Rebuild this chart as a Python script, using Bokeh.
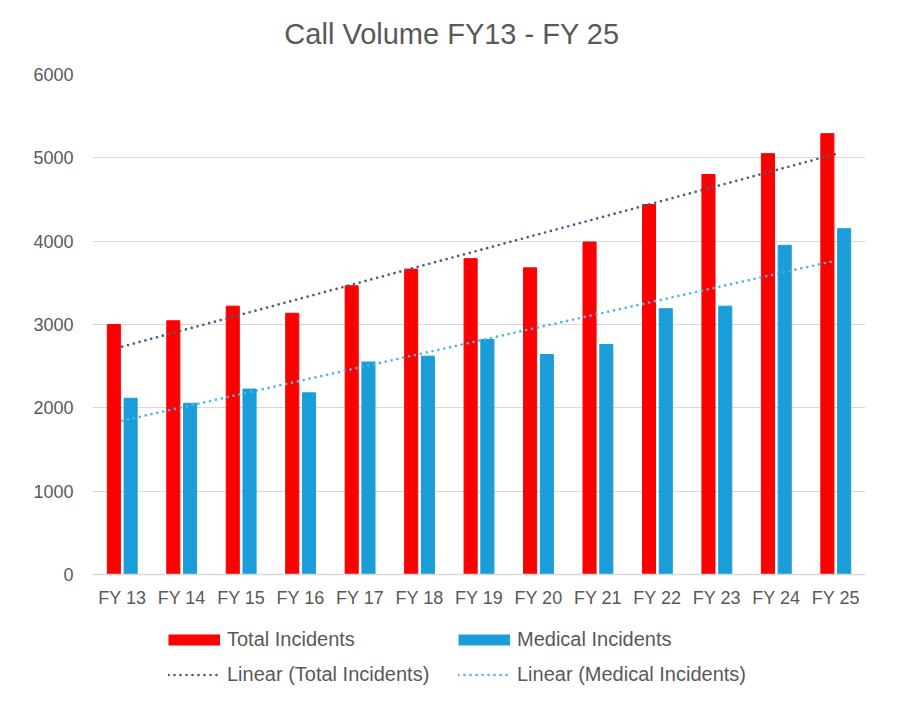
import numpy as np
from bokeh.plotting import figure
from bokeh.layouts import column
from bokeh.models import ColumnDataSource, Legend, LegendItem, FixedTicker, Range1d, Label
from bokeh.embed import file_html
from bokeh.resources import INLINE

categories = ["FY 13", "FY 14", "FY 15", "FY 16", "FY 17", "FY 18", "FY 19",
              "FY 20", "FY 21", "FY 22", "FY 23", "FY 24", "FY 25"]
total_incidents = [3000, 3045, 3220, 3135, 3465, 3665, 3790, 3680, 3990, 4440, 4800, 5050, 5290]
medical_incidents = [2115, 2055, 2225, 2180, 2550, 2620, 2820, 2640, 2760, 3190, 3220, 3950, 4150]
y_ticks = [0, 1000, 2000, 3000, 4000, 5000, 6000]
title_text = "Call Volume FY13 - FY 25"

FONT = "Liberation Sans"
TXT = "#595959"
RED = "#FF0000"
BLUE = "#1A9DD8"
TREND_T = "#3E6283"
TREND_M = "#4FB5E8"

x = np.arange(len(categories))
total_fit = np.polyval(np.polyfit(x, total_incidents, 1), x)
medical_fit = np.polyval(np.polyfit(x, medical_incidents, 1), x)

src = ColumnDataSource(dict(
    x=x, xt=x - 0.141, xm=x + 0.141,
    total=total_incidents, medical=medical_incidents,
    tfit=total_fit, mfit=medical_fit,
))

# title strip
pt = figure(width=890, height=50, output_backend="svg", toolbar_location=None,
            x_axis_location=None, y_axis_location=None,
            x_range=Range1d(0, 773), y_range=Range1d(0, 50), min_border=0)
pt.outline_line_color = None
pt.xgrid.grid_line_color = None
pt.ygrid.grid_line_color = None
pt.add_layout(Label(x=359.5, y=17, text=title_text, text_align="center",
                    text_baseline="middle", text_font=FONT, text_font_size="29px",
                    text_color=TXT))

# main chart
p = figure(width=890, height=560, output_backend="svg", toolbar_location=None,
           x_range=(-0.5, 12.5), y_range=(0, 6000),
           min_border_left=92, min_border_right=25, min_border_top=24, min_border_bottom=36)

p.vbar(x="xt", top="total", width=0.22, source=src, fill_color=RED, line_color=RED)
p.vbar(x="xm", top="medical", width=0.22, source=src, fill_color=BLUE, line_color=BLUE)
p.line(x="x", y="tfit", source=src, line_color=TREND_T, line_width=2.7,
       line_dash="0 6", line_cap="round")
p.line(x="x", y="mfit", source=src, line_color=TREND_M, line_width=2.7,
       line_dash="0 6", line_cap="round")

p.outline_line_color = None
p.xgrid.grid_line_color = None
p.ygrid.grid_line_color = "#D9D9D9"
p.ygrid.grid_line_width = 1

p.yaxis.ticker = FixedTicker(ticks=y_ticks)
p.yaxis.axis_line_color = None
p.yaxis.major_tick_line_color = None
p.yaxis.minor_tick_line_color = None
p.yaxis.major_tick_out = 0
p.yaxis.major_tick_in = 0
p.yaxis.major_label_standoff = 19
p.yaxis.major_label_text_font = FONT
p.yaxis.major_label_text_font_size = "18px"
p.yaxis.major_label_text_color = TXT

p.xaxis.ticker = FixedTicker(ticks=list(x))
p.xaxis.major_label_overrides = {int(i): c for i, c in zip(x, categories)}
p.xaxis.axis_line_color = "#D9D9D9"
p.xaxis.axis_line_width = 1.5
p.xaxis.major_tick_line_color = None
p.xaxis.minor_tick_line_color = None
p.xaxis.major_tick_out = 0
p.xaxis.major_tick_in = 0
p.xaxis.major_label_standoff = 13
p.xaxis.major_label_text_font = FONT
p.xaxis.major_label_text_font_size = "18px"
p.xaxis.major_label_text_color = TXT

# legend strip below the chart (same series; ranges chosen so no marks show there)
pl = figure(width=890, height=87, output_backend="svg", toolbar_location=None,
            x_axis_location=None, y_axis_location=None,
            x_range=Range1d(100, 101), y_range=Range1d(100000, 100001), min_border=0)
pl.outline_line_color = None
pl.xgrid.grid_line_color = None
pl.ygrid.grid_line_color = None
g_t = pl.line(x="x", y="total", source=src, line_color=RED, line_width=11, line_cap="butt")
g_m = pl.line(x="x", y="medical", source=src, line_color=BLUE, line_width=11, line_cap="butt")
g_lt = pl.line(x="x", y="tfit", source=src, line_color=TREND_T, line_width=2.7,
               line_dash="0 6", line_cap="round")
g_lm = pl.line(x="x", y="mfit", source=src, line_color=TREND_M, line_width=2.7,
               line_dash="0 6", line_cap="round")

legend = Legend(items=[
    LegendItem(label="Total Incidents", renderers=[g_t]),
    LegendItem(label="Medical Incidents", renderers=[g_m]),
    LegendItem(label="Linear (Total Incidents)", renderers=[g_lt]),
    LegendItem(label="Linear (Medical Incidents)", renderers=[g_lm]),
], orientation="horizontal", ncols=2, location=(76, 5))
legend.border_line_color = None
legend.background_fill_alpha = 0
legend.padding = 0
legend.margin = 0
legend.spacing = 0
legend.glyph_width = 52
legend.glyph_height = 35
legend.label_standoff = 7
legend.label_width = 231
legend.label_height = 35
legend.label_text_font = FONT
legend.label_text_font_size = "20px"
legend.label_text_color = TXT
pl.add_layout(legend)

layout = column(pt, p, pl)
open("out.html", "w").write(file_html(layout, INLINE))
